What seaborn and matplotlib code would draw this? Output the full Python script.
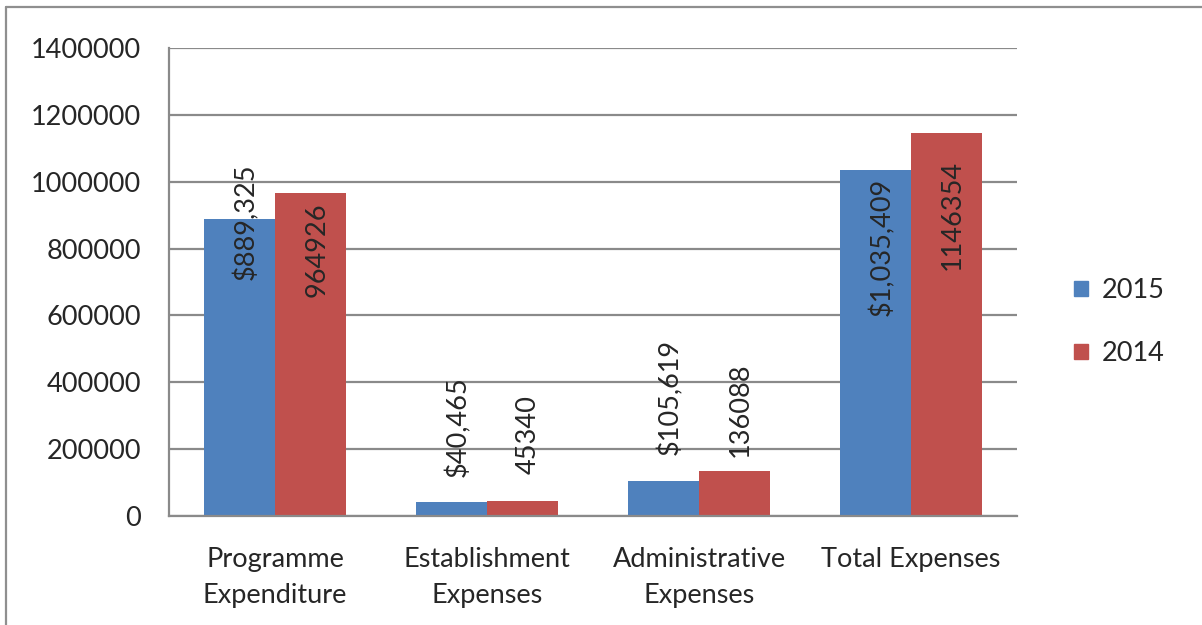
import numpy as np
import pandas as pd
import matplotlib
matplotlib.use("Agg")
import matplotlib.pyplot as plt
import seaborn as sns
from matplotlib.lines import Line2D
from matplotlib.ticker import FixedLocator, NullFormatter

categories = ["Programme\nExpenditure", "Establishment\nExpenses",
              "Administrative\nExpenses", "Total Expenses"]
years = ["2015", "2014"]
values_2015 = [889325, 40465, 105619, 1035409]
values_2014 = [964926, 45340, 136088, 1146354]
yticks = [0, 200000, 400000, 600000, 800000, 1000000, 1200000, 1400000]

# where Excel put each rotated label (centre height, data units)
label_y_2015 = [880000, 266000, 356000, 805000]
label_y_2014 = [796000, 245000, 317000, 900000]

df = pd.DataFrame({
    "category": categories * 2,
    "year": [years[0]] * 4 + [years[1]] * 4,
    "value": values_2015 + values_2014,
})

sns.set_style("white")
plt.rcParams["font.family"] = ["Lato", "DejaVu Sans"]
fs = 19.5

fig = plt.figure(figsize=(12.02, 6.25), dpi=100)
ax = fig.add_axes([169 / 1202, 1 - 516 / 625, 848 / 1202, 468 / 625])

palette = {"2015": "#4F81BD", "2014": "#C0504D"}
sns.barplot(data=df, x="category", y="value", hue="year", hue_order=years,
            palette=palette, width=2 / 3, saturation=1, linewidth=0,
            legend=False, ax=ax)

grid_col = "#8a8a8a"
ax.set_ylim(0, 1400000)
ax.set_xlim(-0.5, 3.5)
ax.set_yticks(yticks)
ax.set_yticklabels([str(t) for t in yticks])
ax.yaxis.grid(True, color=grid_col, linewidth=1.6)
ax.set_axisbelow(True)
ax.set_xlabel("")
ax.set_ylabel("")
for s in ["top", "right"]:
    ax.spines[s].set_visible(False)
for s in ["left", "bottom"]:
    ax.spines[s].set_color(grid_col)
    ax.spines[s].set_linewidth(1.6)

ax.tick_params(axis="y", length=5, width=1.6, color=grid_col, pad=15,
               labelsize=fs)
ax.tick_params(axis="x", which="major", length=0, pad=22, labelsize=fs)
ax.xaxis.set_minor_locator(FixedLocator([-0.5, 0.5, 1.5, 2.5, 3.5]))
ax.xaxis.set_minor_formatter(NullFormatter())
ax.tick_params(axis="x", which="minor", length=6, width=1.6, color=grid_col,
               direction="out")
for lab in ax.get_xticklabels():
    lab.set_linespacing(1.55)

# rotated value labels
off = 1 / 6
for i in range(len(categories)):
    ax.text(i - off + 0.03, label_y_2015[i], f"${values_2015[i]:,}",
            rotation=90, ha="center", va="center", fontsize=fs)
    ax.text(i + off + 0.03, label_y_2014[i], str(values_2014[i]),
            rotation=90, ha="center", va="center", fontsize=fs)

handles = [plt.Rectangle((0, 0), 1, 1, color=palette[y]) for y in years]
fig.legend(handles, years, loc="center left", bbox_to_anchor=(1050 / 1202, 1 - 322 / 625),
           frameon=False, fontsize=fs, handlelength=0.5, handleheight=0.5,
           labelspacing=1.4, handletextpad=0.5)

# outer chart border
fig.add_artist(Line2D([5.5 / 1202, 1], [1 - 6.5 / 625] * 2, color="#8f8f8f",
                      linewidth=1.6, transform=fig.transFigure))
fig.add_artist(Line2D([5.5 / 1202] * 2, [0, 1 - 6.5 / 625], color="#8f8f8f",
                      linewidth=1.6, transform=fig.transFigure))

fig.savefig("out.png", dpi=100)
